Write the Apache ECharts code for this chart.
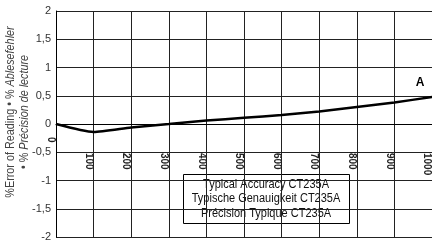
<!DOCTYPE html>
<html>
<head>
<meta charset="utf-8">
<script src="https://cdn.jsdelivr.net/npm/echarts@6/dist/echarts.min.js"></script>
<style>
  html, body { margin: 0; padding: 0; background: #fff; }
  #chart { width: 432px; height: 240px; }
</style>
</head>
<body>
<div id="chart"></div>
<script>
// reading (x) and typical error in % of reading
const readings = [0, 100, 200, 300, 400, 500, 600, 700, 800, 900, 1000]
const errorPct = [0, -0.14, -0.06, 0, 0.06, 0.11, 0.16, 0.22, 0.3, 0.38, 0.48]

const boxLines = ['Typical Accuracy CT235A', 'Typische Genauigkeit CT235A', 'Précision Typique CT235A']
const seriesLabel = 'A'

const font = '"Liberation Sans", Arial, sans-serif'

const chart = echarts.init(document.getElementById('chart'))

// grid box; the x axis runs along the zero line, half way down
const gridTop = 11
const gridBottom = 3
const plotH = 240 - gridTop - gridBottom

const option = {
  animation: false,
  grid: { left: 56, right: 0, top: gridTop, bottom: gridBottom, outerBoundsMode: 'none' },
  xAxis: {
    type: 'value',
    min: 0,
    max: 1000,
    interval: 100,
    offset: -plotH / 2,
    axisLine: { show: true, onZero: false, lineStyle: { color: '#000', width: 1 } },
    axisTick: { show: false },
    splitLine: { show: true, lineStyle: { color: '#222', width: 1 } },
    axisLabel: {
      rotate: -90,
      margin: 8,
      fontFamily: font,
      fontWeight: 'bold',
      fontSize: 10,
      color: '#222',
      verticalAlign: 'top',
      // all but the 0 label sit below the -0,5 line
      formatter: v => (v === 0 ? '{z|0}' : '{d|' + v + '}'),
      rich: {
        z: { fontFamily: font, fontWeight: 'bold', fontSize: 10, color: '#222', padding: [0, 0, 0, 5] },
        d: { fontFamily: font, fontWeight: 'bold', fontSize: 10, color: '#222', padding: [0, 0, 0, 21] }
      }
    }
  },
  yAxis: {
    type: 'value',
    min: -2,
    max: 2,
    interval: 0.5,
    axisLine: { show: true, onZero: false, lineStyle: { color: '#000', width: 1 } },
    axisTick: { show: false },
    splitLine: { show: true, lineStyle: { color: '#222', width: 1 } },
    axisLabel: {
      margin: 5,
      fontFamily: font,
      fontSize: 11,
      color: '#333',
      formatter: v => String(v).replace('.', ',')
    }
  },
  series: [
    {
      type: 'line',
      data: readings.map((r, i) => [r, errorPct[i]]),
      showSymbol: false,
      smooth: 0.2,
      lineStyle: { color: '#000', width: 2.5 }
    }
  ],
  graphic: [
    // y axis title, two rotated lines
    {
      type: 'text',
      x: 11,
      y: 112,
      rotation: Math.PI / 2,
      scaleX: 0.9,
      style: {
        text: '{n|%Error of Reading • % }{i|Ablesefehler}',
        align: 'center',
        verticalAlign: 'middle',
        rich: {
          n: { fontFamily: font, fontSize: 12, fill: '#444' },
          i: { fontFamily: font, fontSize: 12, fontStyle: 'italic', fill: '#444' }
        }
      }
    },
    {
      type: 'text',
      x: 25,
      y: 112,
      rotation: Math.PI / 2,
      scaleX: 0.9,
      style: {
        text: '{n|• % }{i|Précision de lecture}',
        align: 'center',
        verticalAlign: 'middle',
        rich: {
          n: { fontFamily: font, fontSize: 12, fill: '#444' },
          i: { fontFamily: font, fontSize: 12, fontStyle: 'italic', fill: '#444' }
        }
      }
    },
    {
      type: 'rect',
      shape: { x: 183.5, y: 174.5, width: 166, height: 49 },
      style: { fill: '#fff', stroke: '#000', lineWidth: 1 }
    },
    {
      type: 'text',
      x: 266,
      y: 199,
      scaleX: 0.88,
      style: {
        text: boxLines.join('\n'),
        fontFamily: font,
        fontSize: 12.5,
        lineHeight: 14.5,
        fill: '#111',
        align: 'center',
        verticalAlign: 'middle'
      }
    },
    {
      type: 'text',
      x: 420,
      y: 83,
      style: {
        text: seriesLabel,
        fontFamily: font,
        fontSize: 12,
        fontWeight: 'bold',
        fill: '#000',
        align: 'center',
        verticalAlign: 'middle'
      }
    }
  ]
}

chart.setOption(option)
</script>
</body>
</html>
